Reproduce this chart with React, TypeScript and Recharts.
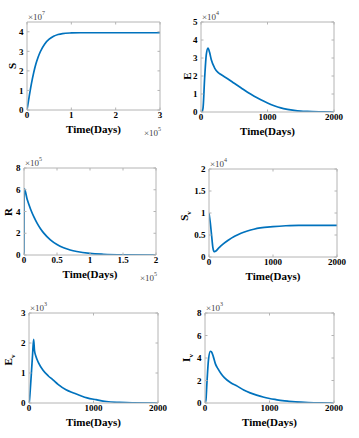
import { LineChart, Line, XAxis, YAxis } from 'recharts'
import type { ReactNode } from 'react'

const BLUE = '#0072BD'
const AXIS = '#b4b4b4'
const FONT = '"Liberation Serif", "Times New Roman", serif'

// S (x1e7) vs time (x1e5 days)
const sTime = [0, 0.05, 0.1, 0.15, 0.2, 0.25, 0.3, 0.4, 0.5, 0.6, 0.7, 0.8, 1.0, 1.2, 1.5, 2, 3]
const sValues = [0, 0.7, 1.35, 1.9, 2.35, 2.7, 2.98, 3.38, 3.62, 3.77, 3.86, 3.91, 3.94, 3.95, 3.95, 3.95, 3.95]

// E (x1e4) vs time (days)
const eTime = [0, 15, 30, 55, 80, 105, 130, 155, 205, 255, 300, 400, 500, 600, 700, 800, 900, 1000, 1100, 1200, 1300, 1400, 1500, 1600, 1800, 2000]
const eValues = [0, 0.02, 0.2, 1.9, 3.2, 3.55, 3.3, 2.9, 2.44, 2.2, 2.08, 1.85, 1.6, 1.35, 1.1, 0.88, 0.68, 0.5, 0.35, 0.23, 0.15, 0.09, 0.05, 0.03, 0.01, 0]

// R (x1e5) vs time (x1e5 days)
const rTime = [0, 0.004, 0.05, 0.1, 0.15, 0.2, 0.25, 0.3, 0.4, 0.5, 0.6, 0.7, 0.8, 1.0, 1.2, 1.5, 2.0]
const rValues = [0, 6.1, 5.07, 4.21, 3.5, 2.91, 2.42, 2.01, 1.39, 0.96, 0.66, 0.46, 0.32, 0.15, 0.07, 0.02, 0]

// Sv (x1e4) vs time (days)
const svTime = [0, 20, 40, 60, 80, 100, 150, 200, 300, 400, 500, 600, 700, 800, 1000, 1200, 1400, 1600, 2000]
const svValues = [1.0, 0.78, 0.5, 0.22, 0.12, 0.13, 0.2, 0.27, 0.38, 0.47, 0.54, 0.59, 0.63, 0.66, 0.69, 0.71, 0.72, 0.72, 0.72]

// Ev (x1e3) vs time (days)
const evTime = [0, 5, 20, 40, 55, 72, 85, 108, 150, 212, 300, 367, 450, 574, 680, 780, 900, 1040, 1200, 1400, 1600, 2000]
const evValues = [0, 0.05, 0.45, 1.1, 1.6, 2.12, 1.75, 1.55, 1.33, 1.11, 0.9, 0.78, 0.62, 0.44, 0.34, 0.26, 0.17, 0.11, 0.05, 0.02, 0.005, 0]

// Iv (x1e3) vs time (days)
const ivTime = [0, 5, 15, 30, 55, 83, 100, 130, 160, 200, 250, 300, 400, 500, 600, 700, 800, 900, 1000, 1100, 1200, 1300, 1400, 1600, 1800, 2000]
const ivValues = [0, 0.05, 0.3, 1.8, 3.9, 4.6, 4.55, 4.1, 3.5, 3.05, 2.6, 2.25, 1.8, 1.5, 1.15, 0.9, 0.7, 0.53, 0.4, 0.3, 0.21, 0.15, 0.1, 0.04, 0.01, 0]

const daysTicks = [0, 1000, 2000]

const toRows = (t: number[], v: number[]) => t.map((x, i) => ({ t: x, v: v[i] }))

const W = 179
const H = 146
const YW = 20
const XH = 20

interface Box {
  x0: number
  y0: number
  x1: number
  y1: number
}

interface PanelProps {
  left: number
  top: number
  box: Box
  rows: { t: number; v: number }[]
  xDomain: [number, number]
  xTicks: number[]
  yDomain: [number, number]
  yTicks: number[]
  yLabel: ReactNode
  yLabelX: number
  yLabelY: number
  yExp: string
  xExp?: string
}

const tickStyle = { fontFamily: FONT, fontWeight: 700, fontSize: 9, fill: '#000' }
const blank = () => ''

function Exp({ p }: { p: string }) {
  return (
    <span>
      ×10<sup style={{ fontSize: 6, position: 'relative', top: -1 }}>{p}</sup>
    </span>
  )
}

function Panel(p: PanelProps) {
  const { box } = p
  const bx0 = box.x0 - p.left
  const by0 = box.y0 - p.top
  const bx1 = box.x1 - p.left
  const by1 = box.y1 - p.top
  const margin = { left: bx0 - YW, top: by0 - 1, right: W - bx1 - 1, bottom: H - by1 - XH }
  const text = { position: 'absolute' as const, fontFamily: FONT, lineHeight: 1, whiteSpace: 'nowrap' as const }
  return (
    <div style={{ position: 'absolute', left: p.left, top: p.top, width: W, height: H }}>
      <LineChart width={W} height={H} data={p.rows} margin={margin}>
        <XAxis
          dataKey="t"
          type="number"
          domain={p.xDomain}
          ticks={p.xTicks}
          allowDataOverflow
          height={XH}
          stroke={AXIS}
          tickSize={-2.5}
          tickMargin={4}
          tick={tickStyle}
          interval={0}
        />
        <XAxis
          xAxisId="top"
          orientation="top"
          dataKey="t"
          type="number"
          domain={p.xDomain}
          ticks={p.xTicks}
          allowDataOverflow
          height={1}
          stroke={AXIS}
          tickSize={-2.5}
          tickFormatter={blank}
          interval={0}
        />
        <YAxis
          type="number"
          domain={p.yDomain}
          ticks={p.yTicks}
          allowDataOverflow
          width={YW}
          stroke={AXIS}
          tickSize={-2.5}
          tickMargin={6}
          tick={tickStyle}
          interval={0}
        />
        <YAxis
          yAxisId="right"
          orientation="right"
          type="number"
          domain={p.yDomain}
          ticks={p.yTicks}
          allowDataOverflow
          width={1}
          stroke={AXIS}
          tickSize={-2.5}
          tickFormatter={blank}
          interval={0}
        />
        <Line dataKey="v" type="monotone" stroke={BLUE} strokeWidth={1.7} dot={false} isAnimationActive={false} />
      </LineChart>
      <div
        style={{
          ...text,
          left: p.yLabelX - p.left,
          top: p.yLabelY - p.top,
          transform: 'translate(-50%, -50%) rotate(-90deg)',
          fontSize: 11,
          fontWeight: 700,
        }}
      >
        {p.yLabel}
      </div>
      <div
        style={{
          ...text,
          left: (bx0 + bx1) / 2,
          top: by1 + 19,
          transform: 'translate(-50%, -50%)',
          fontSize: 11,
          fontWeight: 700,
        }}
      >
        Time(Days)
      </div>
      <div style={{ ...text, left: bx0 + 1, top: by0 - 11, fontSize: 9, color: '#444' }}>
        <Exp p={p.yExp} />
      </div>
      {p.xExp && (
        <div style={{ ...text, right: W - bx1 - 1, top: by1 + 17, fontSize: 9, color: '#444' }}>
          <Exp p={p.xExp} />
        </div>
      )}
    </div>
  )
}

const sub = (base: string) => (
  <span>
    {base}
    <sub style={{ fontSize: 7 }}>v</sub>
  </span>
)

export default function App() {
  return (
    <div style={{ position: 'absolute', left: 0, top: 0, width: 359, height: 438, background: '#fff' }}>
      <Panel
        left={0}
        top={0}
        box={{ x0: 27, y0: 22, x1: 160, y1: 110 }}
        rows={toRows(sTime, sValues)}
        xDomain={[0, 3]}
        xTicks={[0, 1, 2, 3]}
        yDomain={[0, 4.5]}
        yTicks={[0, 1, 2, 3, 4]}
        yLabel="S"
        yLabelX={12}
        yLabelY={66}
        yExp="7"
        xExp="5"
      />
      <Panel
        left={180}
        top={0}
        box={{ x0: 201, y0: 22, x1: 334, y1: 112 }}
        rows={toRows(eTime, eValues)}
        xDomain={[0, 2000]}
        xTicks={daysTicks}
        yDomain={[0, 5]}
        yTicks={[0, 1, 2, 3, 4, 5]}
        yLabel="E"
        yLabelX={187}
        yLabelY={76}
        yExp="4"
      />
      <Panel
        left={0}
        top={145}
        box={{ x0: 24, y0: 168, x1: 156, y1: 255 }}
        rows={toRows(rTime, rValues)}
        xDomain={[0, 2]}
        xTicks={[0, 0.5, 1, 1.5, 2]}
        yDomain={[0, 8]}
        yTicks={[0, 2, 4, 6, 8]}
        yLabel="R"
        yLabelX={8}
        yLabelY={212}
        yExp="5"
        xExp="5"
      />
      <Panel
        left={180}
        top={145}
        box={{ x0: 209, y0: 169, x1: 337, y1: 257 }}
        rows={toRows(svTime, svValues)}
        xDomain={[0, 2000]}
        xTicks={daysTicks}
        yDomain={[0, 2]}
        yTicks={[0, 0.5, 1, 1.5, 2]}
        yLabel={sub('S')}
        yLabelX={186}
        yLabelY={216}
        yExp="4"
      />
      <Panel
        left={0}
        top={290}
        box={{ x0: 29, y0: 313, x1: 158, y1: 403 }}
        rows={toRows(evTime, evValues)}
        xDomain={[0, 2000]}
        xTicks={daysTicks}
        yDomain={[0, 3]}
        yTicks={[0, 1, 2, 3]}
        yLabel={sub('E')}
        yLabelX={10}
        yLabelY={360}
        yExp="3"
      />
      <Panel
        left={180}
        top={290}
        box={{ x0: 205, y0: 313, x1: 334, y1: 403 }}
        rows={toRows(ivTime, ivValues)}
        xDomain={[0, 2000]}
        xTicks={daysTicks}
        yDomain={[0, 8]}
        yTicks={[0, 2, 4, 6, 8]}
        yLabel={sub('I')}
        yLabelX={188}
        yLabelY={358}
        yExp="3"
      />
    </div>
  )
}
